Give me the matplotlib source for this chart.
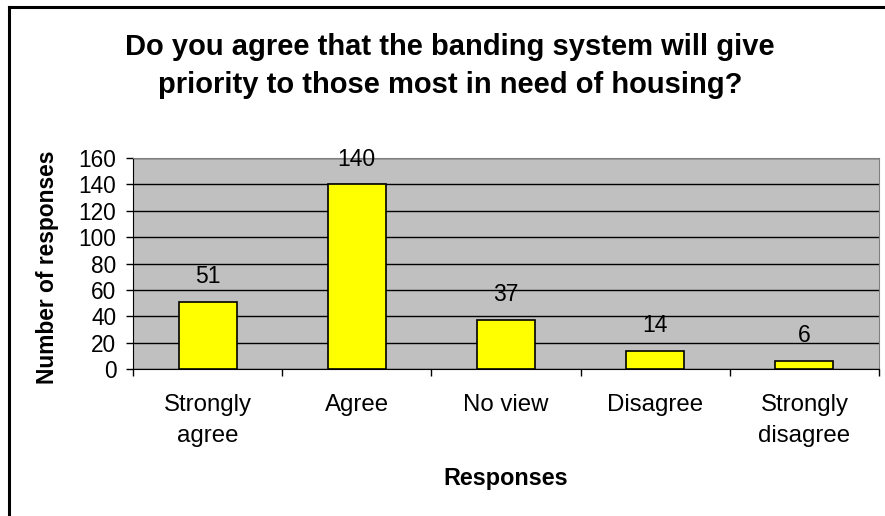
import matplotlib
matplotlib.use("Agg")
import matplotlib.pyplot as plt
from matplotlib.lines import Line2D

categories = ["Strongly\nagree", "Agree", "No view", "Disagree", "Strongly\ndisagree"]
responses = [51, 140, 37, 14, 6]
y_ticks = [0, 20, 40, 60, 80, 100, 120, 140, 160]

plt.rcParams['font.family'] = ['Liberation Sans', 'DejaVu Sans']

W, H = 885, 516
fig = plt.figure(figsize=(W / 100, H / 100), dpi=100)
ax = fig.add_axes([133 / W, 1 - 369 / H, (879 - 133) / W, (369 - 158) / H])

ax.set_facecolor("#C0C0C0")
x = list(range(len(categories)))
ax.bar(x, responses, width=0.39, color="#FFFF00", edgecolor="black", linewidth=1.2, zorder=3)

for xi, v in zip(x, responses):
    ax.annotate(str(v), (xi, v), xytext=(0, 13.5), textcoords="offset points",
                ha="center", va="baseline", fontsize=16.5)

ax.set_xlim(-0.5, len(categories) - 0.5)
ax.set_ylim(0, 160)
ax.set_yticks(y_ticks)
ax.set_yticklabels([str(t) for t in y_ticks], fontsize=16.3)
ax.yaxis.grid(True, color="black", linewidth=1, zorder=1)
ax.set_axisbelow(True)

ax.set_xticks(x)
ax.set_xticklabels(categories, fontsize=17.3, linespacing=1.52)
ax.set_xticks([i - 0.5 for i in range(len(categories) + 1)], minor=True)
ax.tick_params(axis="x", which="major", length=0, pad=18)
ax.tick_params(axis="x", which="minor", length=5, width=1, direction="out")
ax.tick_params(axis="y", length=5, width=1, pad=7)

for side in ["top", "right"]:
    ax.spines[side].set_color("#808080")
for side in ["left", "bottom"]:
    ax.spines[side].set_color("black")

fig.text(450 / W, 1 - 66 / H,
         "Do you agree that the banding system will give\npriority to those most in need of housing?",
         ha="center", va="center", fontsize=21, fontweight="bold", linespacing=1.45)
fig.text(48 / W, 1 - 267 / H, "Number of responses", rotation=90,
         ha="center", va="center", fontsize=16.4, fontweight="bold")
fig.text(506 / W, 1 - 479 / H, "Responses", ha="center", va="center",
         fontsize=16.8, fontweight="bold")

# outer chart border (right and bottom edges fall outside the image)
fig.add_artist(Line2D([9 / W, 9 / W], [0, 1 - 7 / H], color="black", linewidth=2.2))
fig.add_artist(Line2D([9 / W, 1], [1 - 7 / H, 1 - 7 / H], color="black", linewidth=2.2))

fig.savefig("out.png", dpi=100)
